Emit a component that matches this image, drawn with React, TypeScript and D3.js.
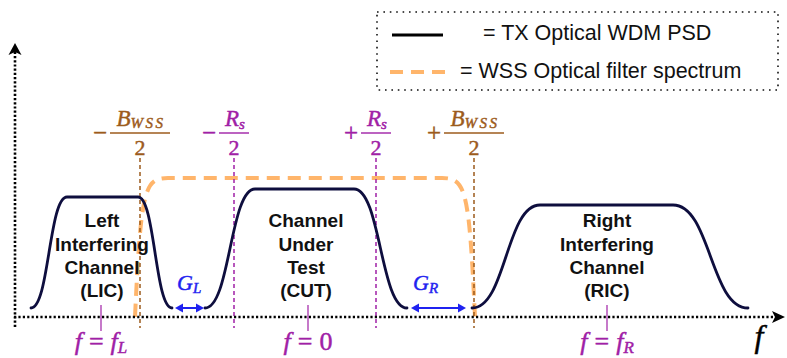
import React from "react";
import * as d3 from "d3";

const W = 787;
const H = 358;

// Frequency axis (arbitrary units, 0 = centre of the channel under test)
const freqExtent = [-145, 240];
// PSD level axis (arbitrary units)
const levelExtent = [0, 140];
const axisTopLevel = 274;

// Channel spectra (rise start, flat start, flat end, fall end, peak level)
const channelLines = [
  ["Left", "Interfering", "Channel", "(LIC)"],
  ["Channel", "Under", "Test", "(CUT)"],
  ["Right", "Interfering", "Channel", "(RIC)"],
];
const channelRiseStart = [-137, -50, 83.5];
const channelFlatStart = [-119, -25, 117.5];
const channelFlatEnd = [-83.5, 24.5, 184];
const channelFallEnd = [-66.5, 51, 221.5];
const channelPeak = [120, 128, 112];
const channelFloor = 9;
const channelCentre = [-102, 1.5, 151];
const channelLabelFreq = [-101.5, 0.5, 151];
const channelFreqSub = ["L", "", "R"];

// Band edges: -Bwss/2, -Rs/2, +Rs/2, +Bwss/2
const edgeFreq = [-82.5, -35.5, 35.5, 84.5];
const edgeSign = ["\u2212", "\u2212", "+", "+"];
const edgeKind = ["B", "R", "R", "B"];

// WSS filter passband: left shoulder control points, mirrored for the right side
const wssLeft = [
  [-85, 0],
  [-82, 127],
  [-80.5, 139],
  [-68.5, 139],
];

// Guard bands between neighbouring channels
const gapSub = ["L", "R"];
const gapFrom = [-65, 53];
const gapTo = [-50.5, 80.5];

const BROWN = "#9C5B1C";
const PURPLE = "#A020A6";
const ORANGE = "#FFB56B";
const NAVY = "#0E0E3E";
const BLUE = "#1F22F0";
const SANS = "'Liberation Sans', Arial, Helvetica, sans-serif";
const SERIF = "'Liberation Serif', 'Times New Roman', serif";

export default function App() {
  const x = d3.scaleLinear().domain(freqExtent).range([15, 785]);
  const y = d3.scaleLinear().domain(levelExtent).range([317, 177]);

  const channelPath = (i: number) => {
    const p = d3.path();
    const x0 = x(channelRiseStart[i]);
    const x1 = x(channelFlatStart[i]);
    const x2 = x(channelFlatEnd[i]);
    const x3 = x(channelFallEnd[i]);
    const yb = y(channelFloor);
    const yt = y(channelPeak[i]);
    const m1 = (x0 + x1) / 2;
    const m2 = (x2 + x3) / 2;
    p.moveTo(x0, yb);
    p.bezierCurveTo(m1, yb, m1, yt, x1, yt);
    p.lineTo(x2, yt);
    p.bezierCurveTo(m2, yt, m2, yb, x3, yb);
    return p.toString();
  };

  const wssPath = () => {
    const p = d3.path();
    const L = wssLeft;
    p.moveTo(x(L[0][0]), y(L[0][1]));
    p.bezierCurveTo(x(L[1][0]), y(L[1][1]), x(L[2][0]), y(L[2][1]), x(L[3][0]), y(L[3][1]));
    p.lineTo(x(-L[3][0]), y(L[3][1]));
    p.bezierCurveTo(x(-L[2][0]), y(L[2][1]), x(-L[1][0]), y(L[1][1]), x(-L[0][0]), y(L[0][1]));
    return p.toString();
  };

  const axisY0 = y(0);
  const xAxisStart = x(freqExtent[0]) - 1;
  const xAxisEnd = x(freqExtent[1]);
  const yAxisX = x(freqExtent[0]);
  const yAxisTop = y(axisTopLevel);

  // math glyphs are drawn slightly heavier, like typeset formulas
  const mathStroke = (col: string) => ({ stroke: col, strokeWidth: 0.45 });

  return (
    <svg
      width={W}
      height={H}
      viewBox={`0 0 ${W} ${H}`}
      style={{ position: "absolute", left: 0, top: 0, background: "#fff" }}
    >
      {/* Legend */}
      <rect
        x={377}
        y={12}
        width={401}
        height={78}
        fill="none"
        stroke="#111"
        strokeWidth={1.6}
        strokeDasharray="1.6 4.8"
      />
      <line x1={392} x2={443} y1={35} y2={35} stroke="#000" strokeWidth={3} />
      <text x={483} y={40} fontFamily={SANS} fontSize={21.5} fill="#111">
        = TX Optical WDM PSD
      </text>
      <line
        x1={390}
        x2={445}
        y1={72}
        y2={72}
        stroke={ORANGE}
        strokeWidth={4}
        strokeDasharray="13 8"
      />
      <text x={460} y={78} fontFamily={SANS} fontSize={21.5} fill="#111">
        = WSS Optical filter spectrum
      </text>

      {/* WSS filter */}
      <path
        d={wssPath()}
        fill="none"
        stroke={ORANGE}
        strokeWidth={4}
        strokeDasharray="13 8"
      />

      {/* Band-edge markers */}
      {edgeFreq.map((f, i) => {
        const cx = x(f);
        const col = edgeKind[i] === "B" ? BROWN : PURPLE;
        const barHalf = edgeKind[i] === "B" ? 30 : 15;
        return (
          <g key={"edge" + i}>
            <line
              x1={cx}
              x2={cx}
              y1={158}
              y2={328}
              stroke={col}
              strokeWidth={1.5}
              strokeDasharray="4 3"
            />
            <line
              x1={cx - barHalf}
              x2={cx + barHalf}
              y1={133}
              y2={133}
              stroke={col}
              strokeWidth={1.4}
            />
            <text
              x={cx - barHalf - 10}
              y={141}
              textAnchor="middle"
              fontFamily={SERIF}
              fontSize={25}
              fill={col}
              {...mathStroke(col)}
            >
              {edgeSign[i]}
            </text>
            {edgeKind[i] === "B" ? (
              <text
                x={cx + 1}
                y={126}
                textAnchor="middle"
                fontFamily={SERIF}
                fontStyle="italic"
                fontSize={23}
                fill={col}
                {...mathStroke(col)}
              >
                B
                <tspan fontSize={15} dy={2} letterSpacing={2.5}>
                  WSS
                </tspan>
              </text>
            ) : (
              <text
                x={cx + 1}
                y={126}
                textAnchor="middle"
                fontFamily={SERIF}
                fontStyle="italic"
                fontSize={23}
                fill={col}
                {...mathStroke(col)}
              >
                R
                <tspan fontSize={15} dy={3}>
                  s
                </tspan>
              </text>
            )}
            <text
              x={cx}
              y={155}
              textAnchor="middle"
              fontFamily={SERIF}
              fontSize={22}
              fill={col}
              {...mathStroke(col)}
            >
              2
            </text>
          </g>
        );
      })}

      {/* Axes */}
      <line
        x1={xAxisStart}
        x2={xAxisEnd - 9}
        y1={axisY0}
        y2={axisY0}
        stroke="#000"
        strokeWidth={2.6}
        strokeDasharray="2.2 2.2"
      />
      <path
        d={`M${xAxisEnd},${axisY0} L${xAxisEnd - 13},${axisY0 - 6} L${xAxisEnd - 10},${axisY0} L${xAxisEnd - 13},${axisY0 + 6} Z`}
        fill="#000"
      />
      <line
        x1={yAxisX}
        x2={yAxisX}
        y1={axisY0 + 10}
        y2={yAxisTop + 9}
        stroke="#000"
        strokeWidth={2.6}
        strokeDasharray="2.2 2"
      />
      <path
        d={`M${yAxisX},${yAxisTop} L${yAxisX - 6.5},${yAxisTop + 12} L${yAxisX},${yAxisTop + 9} L${yAxisX + 6.5},${yAxisTop + 12} Z`}
        fill="#000"
      />
      <text
        x={759}
        y={347}
        textAnchor="middle"
        fontFamily={SERIF}
        fontStyle="italic"
        fontSize={32}
        fill="#000"
        {...mathStroke("#000")}
      >
        f
      </text>

      {/* Channel spectra */}
      {channelRiseStart.map((_, i) => (
        <path
          key={"ch" + i}
          d={channelPath(i)}
          fill="none"
          stroke={NAVY}
          strokeWidth={2.8}
          strokeLinecap="round"
        />
      ))}

      {/* Channel labels */}
      {channelLines.map((lines, i) => (
        <text
          key={"lab" + i}
          textAnchor="middle"
          fontFamily={SANS}
          fontWeight="bold"
          fontSize={19}
          fill="#111"
        >
          {lines.map((s, j) => (
            <tspan key={j} x={x(channelLabelFreq[i])} y={227.3 + j * 23.3}>
              {s}
            </tspan>
          ))}
        </text>
      ))}

      {/* Channel centre ticks and frequency labels */}
      {channelCentre.map((f, i) => (
        <g key={"ctr" + i}>
          <line
            x1={x(f)}
            x2={x(f)}
            y1={305}
            y2={331}
            stroke={PURPLE}
            strokeWidth={1.2}
          />
          <text
            x={x(f)}
            y={350}
            textAnchor="middle"
            fontFamily={SERIF}
            fontSize={26}
            fill={PURPLE}
            {...mathStroke(PURPLE)}
          >
            <tspan fontStyle="italic">f</tspan>
            <tspan dx={7}>=</tspan>
            {channelFreqSub[i] ? (
              <>
                <tspan dx={7} fontStyle="italic">
                  f
                </tspan>
                <tspan fontStyle="italic" fontSize={17} dy={2.5}>
                  {channelFreqSub[i]}
                </tspan>
              </>
            ) : (
              <tspan dx={7}>0</tspan>
            )}
          </text>
        </g>
      ))}

      {/* Guard bands */}
      {gapFrom.map((f, i) => {
        const a = x(f);
        const b = x(gapTo[i]);
        const yy = y(channelFloor);
        const hl = 8;
        const hw = 4.5;
        return (
          <g key={"gap" + i}>
            <line x1={a + hl - 1} x2={b - hl + 1} y1={yy} y2={yy} stroke={BLUE} strokeWidth={2} />
            <path d={`M${a},${yy} L${a + hl},${yy - hw} L${a + hl},${yy + hw} Z`} fill={BLUE} />
            <path d={`M${b},${yy} L${b - hl},${yy - hw} L${b - hl},${yy + hw} Z`} fill={BLUE} />
            <text
              x={a + 2}
              y={290}
              fontFamily={SERIF}
              fontStyle="italic"
              fontSize={22}
              fill={BLUE}
              {...mathStroke(BLUE)}
            >
              G
              <tspan fontSize={15} dy={3}>
                {gapSub[i]}
              </tspan>
            </text>
          </g>
        );
      })}
    </svg>
  );
}
